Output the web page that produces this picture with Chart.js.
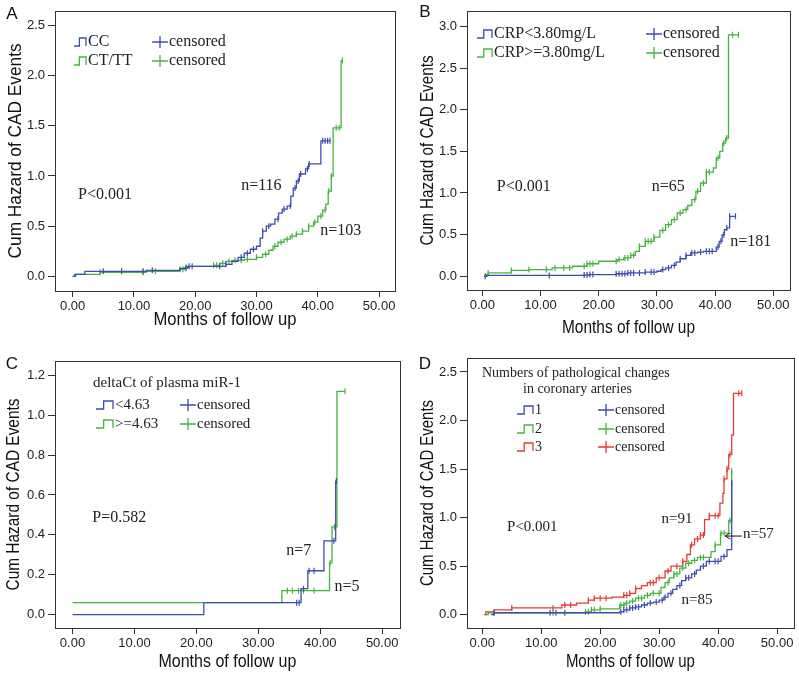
<!DOCTYPE html>
<html>
<head>
<meta charset="utf-8">
<script src="https://cdn.jsdelivr.net/npm/chart.js@4.4.1/dist/chart.umd.min.js"></script>
<style>
body { margin: 0; background: #fff; width: 799px; height: 674px; position: relative; overflow: hidden; }
canvas { position: absolute; }
</style>
</head>
<body>
<canvas id="chartA" width="400" height="337" style="left:0;top:0"></canvas>
<canvas id="chartB" width="399" height="337" style="left:400px;top:0"></canvas>
<canvas id="chartC" width="405" height="337" style="left:0;top:337px"></canvas>
<canvas id="chartD" width="399" height="337" style="left:400px;top:337px"></canvas>
<script>
const xTicks = [0, 10, 20, 30, 40, 50];
const aYTicks = [0, 0.5, 1, 1.5, 2, 2.5];
const bYTicks = [0, 0.5, 1, 1.5, 2, 2.5, 3];
const cYTicks = [0, 0.2, 0.4, 0.6, 0.8, 1.0, 1.2];
const dYTicks = [0, 0.5, 1, 1.5, 2, 2.5];

// A: genotype
const aGroups = ['CC', 'CT/TT'];
const aCcTime = [0, 0.5, 2, 12, 17.5, 18.7, 25, 26, 27, 28, 29, 30, 30.6, 31, 31.6, 32.3, 33, 33.6, 34.2, 35, 35.6, 36, 36.5, 37, 38, 38.5, 40.5];
const aCcHaz = [0, 0.02, 0.05, 0.06, 0.08, 0.1, 0.12, 0.15, 0.19, 0.23, 0.27, 0.3, 0.38, 0.45, 0.5, 0.52, 0.57, 0.63, 0.67, 0.7, 0.8, 0.88, 0.95, 1.02, 1.07, 1.12, 1.35];
const aCcCens = [5, 8, 11.5, 13, 18.5, 19, 19.5, 24, 25, 27.5, 28.5, 29.5, 31, 32, 33.5, 34.5, 35.5, 36.3, 36.8, 37.2, 38.3, 38.6, 40.8, 41.2, 41.6, 42];
const aTtTime = [0, 0.3, 4.5, 12, 17.5, 18.3, 19, 23, 24, 25, 26, 28, 30, 31, 32, 32.7, 33.5, 34.5, 35.5, 36.5, 37.5, 38.5, 39.3, 40, 40.8, 41.3, 41.7, 42.2, 42.5, 43.8];
const aTtHaz = [0, 0.02, 0.04, 0.05, 0.07, 0.09, 0.1, 0.11, 0.13, 0.15, 0.16, 0.17, 0.19, 0.22, 0.26, 0.3, 0.34, 0.37, 0.4, 0.42, 0.45, 0.5, 0.54, 0.6, 0.66, 0.72, 0.85, 1.0, 1.48, 2.15];
const aTtCens = [4.5, 11.5, 13.5, 17.5, 18, 18.5, 23, 23.5, 24.5, 25.5, 26.5, 27.5, 28.5, 30, 31.5, 33, 34, 35, 35.8, 36.5, 37.5, 38.5, 39.5, 40.5, 41.2, 41.8, 42.2, 43, 43.5, 44];

// B: CRP
const bGroups = ['CRP<3.80mg/L', 'CRP>=3.80mg/L'];
const bLowTime = [0.3, 0.8, 17.5, 18.5, 23, 25, 28, 30, 30.7, 31.5, 32.5, 33.3, 34, 35, 35.8, 37, 38, 40.2, 40.7, 41.2, 41.6, 42, 42.5];
const bLowHaz = [0, 0.01, 0.015, 0.02, 0.03, 0.04, 0.05, 0.06, 0.08, 0.1, 0.13, 0.17, 0.21, 0.25, 0.28, 0.29, 0.3, 0.35, 0.42, 0.5, 0.56, 0.58, 0.72];
const bLowCens = [0.5, 11.5, 17.5, 18, 18.5, 19, 23, 23.5, 24, 24.5, 25, 25.5, 26, 27, 28, 29, 29.5, 31, 32, 33, 34, 35, 36, 36.5, 37.5, 38.5, 39, 39.5, 40.5, 41, 41.5, 42, 42.5, 43.5];
const bHighTime = [0.5, 1, 5, 8, 12, 15.5, 18, 20, 23.2, 24.3, 25.5, 26.3, 27, 28, 29.5, 30.5, 31.5, 32.5, 33.5, 34.5, 35.3, 36, 36.7, 37.5, 38.5, 39.7, 40.2, 40.8, 41.3, 41.8, 42.3];
const bHighHaz = [0.02, 0.04, 0.07, 0.08, 0.1, 0.12, 0.15, 0.18, 0.2, 0.22, 0.25, 0.3, 0.36, 0.42, 0.47, 0.55, 0.62, 0.68, 0.76, 0.8, 0.85, 0.92, 1.02, 1.12, 1.25, 1.3, 1.42, 1.5, 1.6, 1.66, 2.9];
const bHighCens = [1, 5, 8, 11, 12.5, 14, 15, 17.5, 18, 18.5, 19, 23, 23.5, 24.5, 25, 25.5, 26, 27, 28, 28.5, 29, 29.5, 31, 32, 33, 34, 35, 36.5, 37, 38, 38.5, 39, 40.5, 41.5, 42, 43, 44];

// C: deltaCt of plasma miR-1
const cGroups = ['<4.63', '>=4.63'];
const cLowTime = [0, 21.2, 36.9, 38, 40.6, 42.5];
const cLowHaz = [0, 0.06, 0.13, 0.22, 0.37, 0.67];
const cLowCens = [36.2, 36.6, 37.3, 38.2, 39, 42.2, 42.6];
const cHighTime = [0, 33.8, 41.5, 41.9, 42.7];
const cHighHaz = [0.06, 0.12, 0.26, 0.44, 1.12];
const cHighCens = [34.7, 35.5, 36.5, 37.3, 39, 41.6, 42.3, 44];

// D: numbers of pathological changes
const dGroups = ['1', '2', '3'];
const dOneTime = [1.5, 2, 23.3, 24, 25, 26, 27, 28, 29, 30, 30.8, 31.5, 32.3, 33, 33.8, 34.5, 35.5, 36.3, 37, 38, 40.5, 41.5, 42.3];
const dOneHaz = [0, 0.02, 0.03, 0.05, 0.07, 0.08, 0.1, 0.12, 0.13, 0.15, 0.18, 0.22, 0.26, 0.3, 0.35, 0.38, 0.42, 0.46, 0.5, 0.55, 0.6, 0.67, 1.36];
const dOneCens = [2, 11.5, 12.5, 14, 23.5, 24, 24.5, 25, 25.5, 26, 26.5, 27.5, 28.5, 29.5, 30.5, 31, 32, 33.5, 34.5, 35, 36, 37.5, 38.5, 39.5, 40, 41, 42.3];
const dTwoTime = [0.5, 1, 17.5, 18.5, 20, 23.3, 24.2, 25, 26, 27.5, 28.5, 30.3, 31, 31.7, 32.5, 33.5, 34.5, 35.5, 36.5, 38.8, 39.5, 40.4, 41.8, 42.3];
const dTwoHaz = [0, 0.02, 0.03, 0.05, 0.06, 0.1, 0.12, 0.14, 0.17, 0.2, 0.22, 0.28, 0.33, 0.38, 0.42, 0.48, 0.53, 0.56, 0.59, 0.65, 0.72, 0.84, 0.97, 1.48];
const dTwoCens = [12, 17.5, 18, 18.5, 19, 20, 23.5, 24, 24.5, 25.5, 26.5, 27, 28, 29, 30, 31.5, 32.5, 33, 34, 35, 36, 37, 37.5, 39.5, 40.5, 41, 42, 42.3];
const dThreeTime = [0.3, 0.6, 2, 5, 13.5, 16, 18, 19, 22, 24, 25, 26, 27, 28, 29.5, 31, 32, 34, 34.7, 35.3, 36, 37, 37.7, 38.5, 40.3, 40.8, 41, 41.5, 41.8, 42.3, 42.6];
const dThreeHaz = [0, 0.03, 0.05, 0.07, 0.1, 0.12, 0.15, 0.17, 0.18, 0.2, 0.22, 0.27, 0.3, 0.33, 0.38, 0.45, 0.5, 0.55, 0.62, 0.72, 0.78, 0.82, 0.98, 1.02, 1.15, 1.25, 1.4, 1.5, 1.65, 1.85, 2.28];
const dThreeCens = [5, 12, 14, 15, 18, 19, 20, 21, 24, 24.5, 25, 26, 28.5, 29, 30, 31.5, 33, 34, 35.5, 36.5, 37, 37.5, 38.5, 39.5, 40, 41, 41.5, 42, 43.5, 44];

const BLUE = '#3f4cb0';
const GREEN = '#45b43f';
const RED = '#e63a35';
const SERIF = '"Liberation Serif", "DejaVu Serif", serif';
const SANS = '"Liberation Sans", Arial, sans-serif';

function hazAt(times, haz, t) {
    let h = haz[0];
    for (let i = 0; i < times.length; i++) {
        if (times[i] <= t) h = haz[i];
    }
    return h;
}

function curve(times, haz, cens, color) {
    const end = Math.max(times[times.length - 1], ...cens);
    const pts = times.map((t, i) => ({ x: t, y: haz[i] }));
    pts.push({ x: end, y: haz[haz.length - 1] });
    return [
        { data: pts, borderColor: color, borderWidth: 1.3, stepped: true, pointRadius: 0, fill: false },
        {
            // censored cases: short vertical ticks on the curve
            data: cens.map(t => ({ x: t, y: hazAt(times, haz, t) })),
            showLine: false, pointStyle: 'line', pointRotation: 90, pointRadius: 3,
            borderColor: color, pointBorderWidth: 1.2
        }
    ];
}

const kmDeco = {
    id: 'kmDeco',
    afterDraw(chart, args, o) {
        const { ctx, chartArea: a, scales: { x, y } } = chart;
        ctx.save();

        // frame
        ctx.strokeStyle = '#333';
        ctx.lineWidth = 1;
        ctx.strokeRect(Math.round(a.left) + 0.5, Math.round(a.top) + 0.5,
            Math.round(a.right - a.left), Math.round(a.bottom - a.top));

        ctx.fillStyle = '#111';
        ctx.textBaseline = 'middle';
        ctx.textAlign = 'center';
        ctx.font = '17px ' + SANS;
        ctx.fillText(o.letter, o.letterX, o.letterY);

        // axis titles
        ctx.font = '19px ' + SANS;
        ctx.fillText('Months of follow up', (a.left + a.right) / 2, o.xTitleY, o.xTitleW);
        ctx.save();
        ctx.translate(o.yTitleX, (a.top + a.bottom) / 2);
        ctx.rotate(-Math.PI / 2);
        ctx.fillText('Cum Hazard of CAD Events', 0, 0, o.yTitleW);
        ctx.restore();

        // legend
        ctx.textAlign = 'left';
        ctx.font = o.legendSize + 'px ' + SERIF;
        ctx.fillStyle = '#222';
        (o.legendTitle || []).forEach(t => ctx.fillText(t.text, t.x, t.y, t.w));
        o.rows.forEach((r, i) => {
            const yy = o.rowY[i];
            const ix = o.iconX, iw = o.iconW;
            ctx.strokeStyle = r.color;
            ctx.lineWidth = 1.3;
            ctx.beginPath();
            ctx.moveTo(ix, yy + 4);
            ctx.lineTo(ix + iw * 0.45, yy + 4);
            ctx.lineTo(ix + iw * 0.45, yy - 4);
            ctx.lineTo(ix + iw, yy - 4);
            ctx.lineTo(ix + iw, yy + 4);
            ctx.stroke();
            ctx.beginPath();
            ctx.moveTo(o.censX - 8, yy);
            ctx.lineTo(o.censX + 8, yy);
            ctx.moveTo(o.censX, yy - 6);
            ctx.lineTo(o.censX, yy + 6);
            ctx.stroke();
            ctx.fillStyle = '#222';
            ctx.fillText(r.label, o.labelX, yy);
            ctx.fillText('censored', o.censX + 9, yy);
        });

        // notes in data coordinates
        ctx.font = o.noteSize + 'px ' + SERIF;
        o.notes.forEach(n => ctx.fillText(n.text, x.getPixelForValue(n.x), y.getPixelForValue(n.y)));

        if (o.arrow) {
            const x0 = x.getPixelForValue(o.arrow.from[0]), y0 = y.getPixelForValue(o.arrow.from[1]);
            const x1 = x.getPixelForValue(o.arrow.to[0]), y1 = y.getPixelForValue(o.arrow.to[1]);
            ctx.strokeStyle = '#111';
            ctx.lineWidth = 1;
            ctx.beginPath();
            ctx.moveTo(x0, y0);
            ctx.lineTo(x1, y1);
            ctx.moveTo(x1 + 5, y1 - 3);
            ctx.lineTo(x1, y1);
            ctx.lineTo(x1 + 5, y1 + 3);
            ctx.stroke();
        }
        ctx.restore();
    }
};

function makeChart(id, p) {
    return new Chart(document.getElementById(id), {
        type: 'line',
        data: { datasets: p.datasets },
        options: {
            responsive: false,
            animation: false,
            layout: { padding: { top: p.padTop, right: p.padRight, left: 0, bottom: 0 } },
            plugins: { legend: { display: false }, tooltip: { enabled: false }, kmDeco: p.deco },
            scales: {
                x: {
                    type: 'linear', min: p.xMin, max: p.xMax,
                    afterBuildTicks: s => { s.ticks = xTicks.map(v => ({ value: v })); },
                    afterFit: s => { s.height = p.xHeight; },
                    ticks: { callback: v => v.toFixed(2), color: '#222', font: { family: SANS, size: 13 }, padding: 2, maxRotation: 0, autoSkip: false },
                    grid: { drawOnChartArea: false, tickLength: 6, color: '#333' },
                    border: { display: false }
                },
                y: {
                    type: 'linear', min: p.yMin, max: p.yMax,
                    afterBuildTicks: s => { s.ticks = p.yTicks.map(v => ({ value: v })); },
                    afterFit: s => { s.width = p.yWidth; },
                    ticks: { callback: v => v.toFixed(1), color: '#222', font: { family: SANS, size: 13 }, padding: 3, autoSkip: false },
                    grid: { drawOnChartArea: false, tickLength: 7, color: '#333' },
                    border: { display: false }
                }
            }
        },
        plugins: [kmDeco]
    });
}

makeChart('chartA', {
    datasets: [...curve(aCcTime, aCcHaz, aCcCens, BLUE), ...curve(aTtTime, aTtHaz, aTtCens, GREEN)],
    padTop: 5, padRight: 3, yWidth: 55, xHeight: 46,
    xMin: -2.87, xMax: 52.56, yMin: -0.146, yMax: 2.646, yTicks: aYTicks,
    deco: {
        letter: 'A', letterX: 12, letterY: 14,
        xTitleY: 320, xTitleW: 143, yTitleX: 16, yTitleW: 215,
        legendSize: 16, rows: [{ label: aGroups[0], color: BLUE }, { label: aGroups[1], color: GREEN }],
        rowY: [42, 61], iconX: 74, iconW: 12, labelX: 88, censX: 160,
        noteSize: 16,
        notes: [{ text: 'P<0.001', x: 0.9, y: 0.81 }, { text: 'n=116', x: 27.5, y: 0.9 }, { text: 'n=103', x: 40.4, y: 0.45 }]
    }
});

makeChart('chartB', {
    datasets: [...curve(bLowTime, bLowHaz, bLowCens, BLUE), ...curve(bHighTime, bHighHaz, bHighCens, GREEN)],
    padTop: 5, padRight: 9, yWidth: 67, xHeight: 47,
    xMin: -2.63, xMax: 52.87, yMin: -0.165, yMax: 3.188, yTicks: bYTicks,
    deco: {
        letter: 'B', letterX: 25, letterY: 12,
        xTitleY: 328, xTitleW: 133, yTitleX: 28, yTitleW: 190,
        legendSize: 16, rows: [{ label: bGroups[0], color: BLUE }, { label: bGroups[1], color: GREEN }],
        rowY: [34, 53], iconX: 77, iconW: 15, labelX: 94, censX: 254,
        noteSize: 16,
        notes: [{ text: 'P<0.001', x: 2.5, y: 1.08 }, { text: 'n=65', x: 29.1, y: 1.08 }, { text: 'n=181', x: 42.6, y: 0.415 }]
    }
});

makeChart('chartC', {
    datasets: [...curve(cLowTime, cLowHaz, cLowCens, BLUE), ...curve(cHighTime, cHighHaz, cHighCens, GREEN)],
    padTop: 24, padRight: 2, yWidth: 55, xHeight: 46,
    xMin: -2.83, xMax: 52.85, yMin: -0.067, yMax: 1.272, yTicks: cYTicks,
    deco: {
        letter: 'C', letterX: 12, letterY: 27,
        xTitleY: 325, xTitleW: 138, yTitleX: 14, yTitleW: 192,
        legendSize: 15,
        legendTitle: [{ text: 'deltaCt of plasma miR-1', x: 93, y: 46, w: 160 }],
        rows: [{ label: cGroups[0], color: BLUE }, { label: cGroups[1], color: GREEN }],
        rowY: [68, 87], iconX: 96, iconW: 17, labelX: 115, censX: 188,
        noteSize: 16,
        notes: [{ text: 'P=0.582', x: 3.2, y: 0.485 }, { text: 'n=7', x: 34.5, y: 0.32 }, { text: 'n=5', x: 42.3, y: 0.14 }]
    }
});

makeChart('chartD', {
    datasets: [...curve(dOneTime, dOneHaz, dOneCens, BLUE), ...curve(dTwoTime, dTwoHaz, dTwoCens, GREEN), ...curve(dThreeTime, dThreeHaz, dThreeCens, RED)],
    padTop: 21, padRight: 5, yWidth: 67, xHeight: 46,
    xMin: -2.59, xMax: 52.83, yMin: -0.137, yMax: 2.644, yTicks: dYTicks,
    deco: {
        letter: 'D', letterX: 25, letterY: 27,
        xTitleY: 325, xTitleW: 129, yTitleX: 28, yTitleW: 186,
        legendSize: 14,
        legendTitle: [{ text: 'Numbers of pathological changes', x: 82, y: 36, w: 200 }, { text: 'in coronary arteries', x: 123, y: 52, w: 117 }],
        rows: [{ label: dGroups[0], color: BLUE }, { label: dGroups[1], color: GREEN }, { label: dGroups[2], color: RED }],
        rowY: [73, 92, 110], iconX: 117, iconW: 16, labelX: 135, censX: 206,
        noteSize: 15,
        notes: [{ text: 'P<0.001', x: 4.2, y: 0.9 }, { text: 'n=91', x: 30.4, y: 0.98 }, { text: 'n=57', x: 44.2, y: 0.83 }, { text: 'n=85', x: 33.8, y: 0.15 }],
        arrow: { from: [44.0, 0.81], to: [41.2, 0.81] }
    }
});
</script>
</body>
</html>
